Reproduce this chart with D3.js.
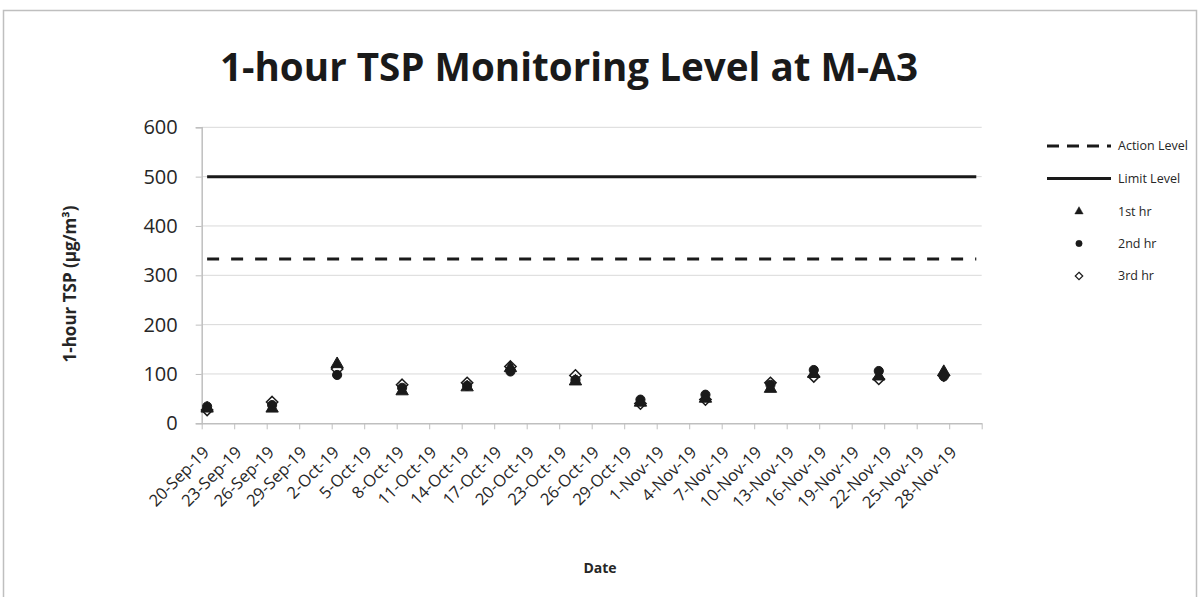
<!DOCTYPE html>
<html><head><meta charset="utf-8">
<script src="https://cdn.jsdelivr.net/npm/d3@7"></script>
<style>body{margin:0;background:#fff}svg{display:block;font-family:"Open Sans",sans-serif}</style>
</head><body>
<svg id="c" width="1203" height="597"></svg>
<script>
const titleText = "1-hour TSP Monitoring Level at M-A3";
const yTitle = "1-hour TSP (µg/m³)";
const xTitle = "Date";
const sampleDates = ["2019-09-20","2019-09-26","2019-10-02","2019-10-08","2019-10-14","2019-10-18","2019-10-24","2019-10-30","2019-11-05","2019-11-11","2019-11-15","2019-11-21","2019-11-27"];
const hr1 = [30, 30, 120, 65, 73, 112, 85, 42, 50, 70, 100, 95, 104];
const hr2 = [34, 37, 98, 72, 76, 105, 88, 48, 58, 78, 108, 106, 95];
const hr3 = [27, 43, 110, 78, 82, 115, 97, 40, 48, 82, 95, 90, 97];
const actionLevel = 333;
const limitLevel = 500;
const levelRange = ["2019-09-20", "2019-11-30"];
const axisRange = ["2019-09-20", "2019-12-01"];
const yTicks = [0, 100, 200, 300, 400, 500, 600];
const legendLabels = ["Action Level", "Limit Level", "1st hr", "2nd hr", "3rd hr"];

const parse = d3.utcParse("%Y-%m-%d");
const mid = d => d3.utcHour.offset(parse(d), 12);
const svg = d3.select("#c");
const L = 201.7, R = 981.7, T = 127.3, B = 423.3;
const x = d3.scaleUtc().domain(axisRange.map(parse)).range([L, R]);
const y = d3.scaleLinear().domain([0, 600]).range([B, T]);

svg.append("rect").attr("width",1203).attr("height",597).attr("fill","#fff");
svg.append("rect").attr("x",3.5).attr("y",10.5).attr("width",1193).attr("height",620)
  .attr("fill","none").attr("stroke","#bfbfbf").attr("stroke-width",1.5);

// title
svg.append("text").attr("x",569).attr("y",81).attr("text-anchor","middle")
  .attr("font-size",40).attr("font-weight","bold").attr("fill","#1a1a1a")
  .attr("textLength",698).attr("lengthAdjust","spacingAndGlyphs").text(titleText);

// gridlines
svg.append("g").selectAll("line").data(yTicks.filter(d=>d>0)).join("line")
  .attr("x1",L).attr("x2",R).attr("y1",d=>y(d)).attr("y2",d=>y(d))
  .attr("stroke","#d9d9d9").attr("stroke-width",1);

// y axis
const yAxis = svg.append("g").attr("transform",`translate(${L},0)`)
  .call(d3.axisLeft(y).tickValues(yTicks).tickSize(6).tickPadding(18));
yAxis.select(".domain").attr("stroke","#bfbfbf").attr("stroke-width",1.5);
yAxis.selectAll(".tick line").attr("stroke","#bfbfbf");
yAxis.selectAll("text").attr("font-size",20).attr("fill","#262626").attr("font-family","Open Sans");

// x axis
const tickDates = d3.range(0, 73, 3).map(k => d3.utcDay.offset(parse(axisRange[0]), k));
const fmt = d3.utcFormat("%-d-%b-%y");
const xAxis = svg.append("g").attr("transform",`translate(0,${B})`)
  .call(d3.axisBottom(x).tickValues(tickDates).tickSize(6).tickSizeOuter(0)
    .tickFormat((d,i) => i < tickDates.length - 1 ? fmt(d) : ""));
xAxis.select(".domain").attr("stroke","#bfbfbf").attr("stroke-width",1.5);
xAxis.selectAll(".tick line").attr("stroke","#bfbfbf");
xAxis.selectAll("text").attr("font-size",16.5).attr("fill","#262626").attr("font-family","Open Sans")
  .attr("text-anchor","end").attr("dy",0).attr("y",0)
  .attr("transform","translate(8,30) rotate(-45)");

// axis titles
svg.append("text").attr("transform","translate(76,284) rotate(-90)").attr("text-anchor","middle")
  .attr("font-size",17).attr("font-weight","bold").attr("fill","#262626").text(yTitle);
svg.append("text").attr("x",600).attr("y",573).attr("text-anchor","middle")
  .attr("font-size",14).attr("font-weight","bold").attr("fill","#262626").text(xTitle);

// level lines
const lvl = v => levelRange.map(d => [mid(d), v]);
const line = d3.line().x(d=>x(d[0])).y(d=>y(d[1]));
svg.append("path").attr("d", line(lvl(actionLevel))).attr("stroke","#1a1a1a")
  .attr("stroke-width",3).attr("stroke-dasharray","12,12").attr("fill","none");
svg.append("path").attr("d", line(lvl(limitLevel))).attr("stroke","#1a1a1a")
  .attr("stroke-width",3).attr("fill","none");

// markers
const diamondSq = { draw(ctx, size) { const r = Math.sqrt(size / 2); ctx.moveTo(0,-r); ctx.lineTo(r,0); ctx.lineTo(0,r); ctx.lineTo(-r,0); ctx.closePath(); } };
const tri = d3.symbol().type(d3.symbolTriangle).size(66);
const cir = d3.symbol().type(d3.symbolCircle).size(66);
const dia = d3.symbol().type(diamondSq).size(64);
const series = [
  {vals: hr1, sym: tri, fill: "#1a1a1a", stroke: "#1a1a1a", sw: 1},
  {vals: hr2, sym: cir, fill: "#1a1a1a", stroke: "#1a1a1a", sw: 1},
  {vals: hr3, sym: dia, fill: "none", stroke: "#1a1a1a", sw: 1.5}
];
series.forEach(s => {
  svg.append("g").selectAll("path").data(sampleDates.map((d,i)=>[mid(d), s.vals[i]])).join("path")
    .attr("transform", d => `translate(${x(d[0])},${y(d[1])})`)
    .attr("d", s.sym()).attr("fill", s.fill).attr("stroke", s.stroke).attr("stroke-width", s.sw);
});

// legend
const lg = svg.append("g");
const ly = [146, 178.5, 211.5, 243.5, 276];
const lx1 = 1047, lx2 = 1111, lmx = 1079, ltx = 1118;
lg.append("line").attr("x1",lx1).attr("x2",lx2).attr("y1",ly[0]).attr("y2",ly[0])
  .attr("stroke","#1a1a1a").attr("stroke-width",3).attr("stroke-dasharray","12,8");
lg.append("line").attr("x1",lx1).attr("x2",lx2).attr("y1",ly[1]).attr("y2",ly[1])
  .attr("stroke","#1a1a1a").attr("stroke-width",3);
const lsyms = [d3.symbol().type(d3.symbolTriangle).size(30), d3.symbol().type(d3.symbolCircle).size(32), d3.symbol().type(diamondSq).size(28)];
lsyms.forEach((s,i)=>{
  lg.append("path").attr("transform",`translate(${lmx},${ly[i+2]})`).attr("d",s())
    .attr("fill", i<2 ? "#1a1a1a" : "#fff").attr("stroke","#1a1a1a").attr("stroke-width", i<2?0.5:1.2);
});
lg.selectAll("text").data(legendLabels).join("text")
  .attr("x",ltx).attr("y",(d,i)=>ly[i]+4).attr("font-size",12.5).attr("fill","#262626").text(d=>d);
</script>
</body></html>
